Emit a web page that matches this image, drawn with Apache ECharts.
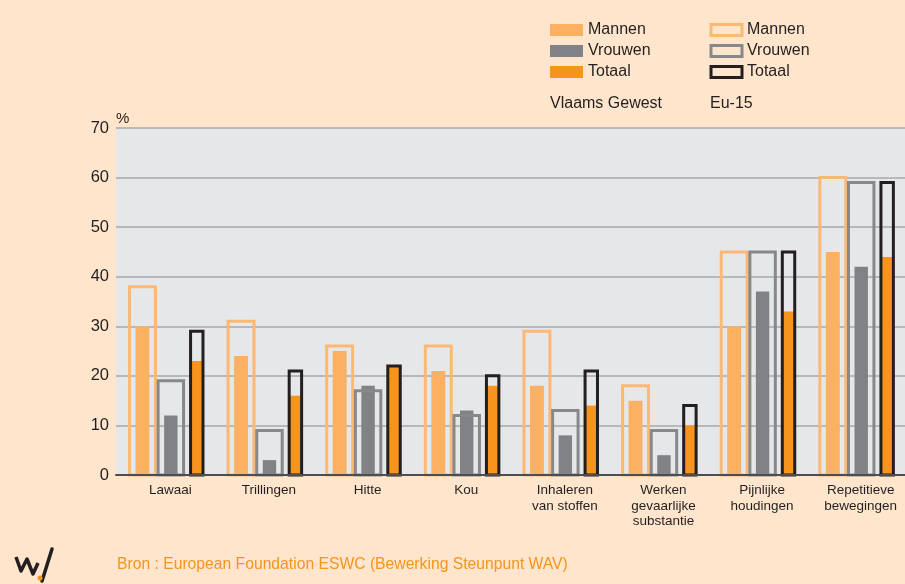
<!DOCTYPE html>
<html>
<head>
<meta charset="utf-8">
<script src="https://cdn.jsdelivr.net/npm/echarts@6/dist/echarts.min.js"></script>
<style>
  html, body { margin: 0; padding: 0; background: #fee5cc; }
  #chart { width: 905px; height: 584px; }
</style>
</head>
<body>
<div id="chart"></div>
<script>
// categories (x axis)
const categories = [
  'Lawaai', 'Trillingen', 'Hitte', 'Kou',
  'Inhaleren\nvan stoffen', 'Werken\ngevaarlijke\nsubstantie',
  'Pijnlijke\nhoudingen', 'Repetitieve\nbewegingen'
]

// Vlaams Gewest (filled bars)
const vgMannen = [30, 24, 25, 21, 18, 15, 30, 45]
const vgVrouwen = [12, 3, 18, 13, 8, 4, 37, 42]
const vgTotaal = [23, 16, 22, 18, 14, 10, 33, 44]

// Eu-15 (outlined bars)
const euMannen = [38, 31, 26, 26, 29, 18, 45, 60]
const euVrouwen = [19, 9, 17, 12, 13, 9, 45, 59]
const euTotaal = [29, 21, 22, 20, 21, 14, 45, 59]

const yTicks = { min: 0, max: 70, interval: 10 }

const FONT = '"Liberation Sans", Arial, sans-serif'
const TEXT = '#231f20'

const chart = echarts.init(document.getElementById('chart'))

// bar drawn at a fixed place inside the category band
const makeRender = (offsetFrac, widthFrac, outline, color) => (params, api) => {
  const idx = api.value(0)
  const top = api.coord([idx, api.value(1)])
  const base = api.coord([idx, 0])
  const band = api.size([1, 0])[0]
  const w = band * widthFrac
  const cx = top[0] + band * offsetFrac
  return {
    type: 'rect',
    shape: { x: cx - w / 2, y: top[1], width: w, height: base[1] - top[1] },
    style: outline
      ? { fill: 'none', stroke: color, lineWidth: 3 }
      : { fill: color }
  }
}

const toData = arr => arr.map((v, i) => [i, v])

const fillSeries = (name, arr, color, off, wf) => ({
  name,
  type: 'custom',
  renderItem: makeRender(off, wf, false, color),
  itemStyle: { color },
  encode: { x: 0, y: 1 },
  data: toData(arr),
  z: 2
})

const outlineSeries = (name, arr, color, off, wf) => ({
  name,
  type: 'custom',
  renderItem: makeRender(off, wf, true, color),
  itemStyle: { color: 'transparent', borderColor: color, borderWidth: 3 },
  encode: { x: 0, y: 1 },
  data: toData(arr),
  z: 3
})

const C = {
  vgM: '#fbb062', vgV: '#808285', vgT: '#f7941d',
  euM: '#fdb874', euV: '#87888b', euT: '#231f20'
}

const legendText = { color: TEXT, fontSize: 16, fontFamily: FONT }

const option = {
  backgroundColor: '#fee5cc',
  textStyle: { fontFamily: FONT },
  animation: false,
  grid: {
    left: 116, top: 128, right: -3, bottom: 109,
    show: true, backgroundColor: '#e6e7e8', borderWidth: 0
  },
  legend: [
    {
      orient: 'vertical', left: 545, top: 17,
      itemWidth: 33, itemHeight: 12, itemGap: 5,
      icon: 'rect', selectedMode: false,
      formatter: n => n.slice(3),
      textStyle: legendText,
      data: [
        { name: 'VG Mannen', itemStyle: { color: C.vgM, borderWidth: 0 } },
        { name: 'VG Vrouwen', itemStyle: { color: C.vgV, borderWidth: 0 } },
        { name: 'VG Totaal', itemStyle: { color: C.vgT, borderWidth: 0 } }
      ]
    },
    {
      orient: 'vertical', left: 704.5, top: 17,
      itemWidth: 31, itemHeight: 11, itemGap: 5,
      icon: 'rect', selectedMode: false,
      formatter: n => n.slice(3),
      textStyle: legendText,
      data: [
        { name: 'EU Mannen', itemStyle: { color: 'transparent', borderColor: C.euM, borderWidth: 3 } },
        { name: 'EU Vrouwen', itemStyle: { color: 'transparent', borderColor: C.euV, borderWidth: 3 } },
        { name: 'EU Totaal', itemStyle: { color: 'transparent', borderColor: C.euT, borderWidth: 3 } }
      ]
    }
  ],
  xAxis: {
    type: 'category',
    data: categories,
    z: 5,
    axisLine: { lineStyle: { color: '#4d4d4f', width: 2 } },
    axisTick: { show: false },
    axisLabel: {
      interval: 0, color: TEXT, fontSize: 13.5, lineHeight: 15.5,
      margin: 8, padding: [0, 0, 0, 10]
    },
    splitLine: { show: false }
  },
  yAxis: {
    type: 'value',
    min: yTicks.min, max: yTicks.max, interval: yTicks.interval,
    name: '%',
    nameLocation: 'end',
    nameGap: 2,
    nameTextStyle: { color: TEXT, fontSize: 15, align: 'left' },
    axisLine: { show: false },
    axisTick: { show: false },
    axisLabel: { color: TEXT, fontSize: 16.5, margin: 7 },
    splitLine: { lineStyle: { color: '#a7a9ac', width: 1.5 } }
  },
  series: [
    fillSeries('VG Mannen', vgMannen, C.vgM, -0.232, 0.141),
    fillSeries('VG Vrouwen', vgVrouwen, C.vgV, 0.056, 0.136),
    fillSeries('VG Totaal', vgTotaal, C.vgT, 0.319, 0.111),
    outlineSeries('EU Mannen', euMannen, C.euM, -0.232, 0.263),
    outlineSeries('EU Vrouwen', euVrouwen, C.euV, 0.056, 0.258),
    outlineSeries('EU Totaal', euTotaal, C.euT, 0.319, 0.126)
  ],
  graphic: [
    {
      type: 'text', left: 550, top: 96,
      style: { text: 'Vlaams Gewest', fill: TEXT, font: '16px ' + FONT }
    },
    {
      type: 'text', left: 710, top: 96,
      style: { text: 'Eu-15', fill: TEXT, font: '16px ' + FONT }
    },
    {
      type: 'text', left: 117, top: 557,
      style: {
        text: 'Bron : European Foundation ESWC (Bewerking Steunpunt WAV)',
        fill: '#f7941d', font: '15.7px ' + FONT
      }
    },
    {
      type: 'polyline',
      shape: { points: [[16, 557], [21, 571], [27, 559], [33, 574], [38, 563]] },
      style: { stroke: '#231f20', lineWidth: 3.5, fill: 'none', lineJoin: 'round' }
    },
    {
      type: 'line',
      shape: { x1: 42, y1: 581, x2: 52, y2: 549 },
      style: { stroke: '#231f20', lineWidth: 3.5, lineCap: 'round' }
    },
    {
      type: 'circle',
      shape: { cx: 40, cy: 578, r: 2.5 },
      style: { fill: '#f7941d' }
    }
  ]
}

chart.setOption(option)
</script>
</body>
</html>
